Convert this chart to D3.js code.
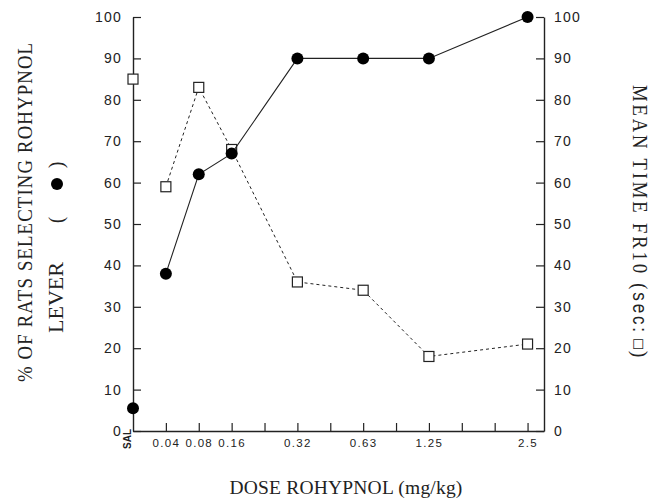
<!DOCTYPE html>
<html>
<head>
<meta charset="utf-8">
<script src="https://cdn.jsdelivr.net/npm/d3@7"></script>
<style>
  html, body { margin: 0; padding: 0; background: #fff; }
  svg { display: block; }
</style>
</head>
<body>
<svg id="chart" width="663" height="499"></svg>
<script>
// ---- data ----
const doses = ["SAL", "0.04", "0.08", "0.16", "0.32", "0.63", "1.25", "2.5"];
const doseSlots = [0, 1, 2, 3, 5, 7, 9, 12];          // slot of each dose on the x-axis
const xTickSlots = [1, 2, 3, 4, 5, 6, 7, 8, 9, 10, 11, 12];
const pctLever = [5.5, 38, 62, 67, 90, 90, 90, 100];  // % selecting Rohypnol lever (filled circles)
const meanTime = [85, 59, 83, 68, 36, 34, 18, 21];    // mean time FR10, sec (open squares)
const yTicks = [0, 10, 20, 30, 40, 50, 60, 70, 80, 90, 100];

const svg = d3.select("#chart");
const pLeft = 133, pRight = 544, pTop = 17, pBottom = 431;

const x = d3.scaleLinear().domain([0, 12.5]).range([pLeft, pRight]);
const yL = d3.scaleLinear().domain([0, 100]).range([pBottom, pTop]);
const yR = d3.scaleLinear().domain([0, 100]).range([pBottom, pTop]);

const axisColor = "#222";
const sans = "Liberation Sans, Arial, sans-serif";
const serif = "Liberation Serif, Times New Roman, serif";

// left axis
const gL = svg.append("g").attr("transform", `translate(${pLeft},0)`)
  .call(d3.axisLeft(yL).tickValues(yTicks).tickSizeInner(-8).tickSizeOuter(0).tickPadding(11));
// right axis
const gR = svg.append("g").attr("transform", `translate(${pRight},0)`)
  .call(d3.axisRight(yR).tickValues(yTicks).tickSizeInner(-8).tickSizeOuter(0).tickPadding(10));
// bottom axis
const gB = svg.append("g").attr("transform", `translate(0,${pBottom})`)
  .call(d3.axisBottom(x).tickValues(xTickSlots).tickSizeInner(-8).tickSizeOuter(0)
    .tickFormat(d => { const i = doseSlots.indexOf(d); return i > 0 ? doses[i] : ""; })
    .tickPadding(8));

[gL, gR, gB].forEach(g => {
  g.select(".domain").attr("stroke", axisColor).attr("stroke-width", 1.4);
  g.selectAll(".tick line").attr("stroke", axisColor).attr("stroke-width", 1.2);
});
[gL, gR].forEach(g => g.selectAll(".tick text")
  .attr("font-family", sans)
  .attr("font-size", 14).attr("letter-spacing", 1.2).attr("fill", "#222"));
gB.selectAll(".tick text")
  .attr("font-family", sans)
  .attr("font-size", 11.5).attr("letter-spacing", 1.3).attr("fill", "#222");

// SAL label (rotated)
svg.append("text")
  .attr("transform", `translate(${x(doseSlots[0]) - 2},${pBottom - 2}) rotate(-90)`)
  .attr("text-anchor", "end")
  .attr("font-family", sans)
  .attr("font-weight", "bold").attr("font-size", 10).attr("fill", "#222")
  .text(doses[0]);

// ---- series: mean time (squares, dashed) ----
const timePts = doseSlots.map((s, i) => ({ s, v: meanTime[i] }));
svg.append("path")
  .datum(timePts.slice(1))
  .attr("fill", "none").attr("stroke", "#222").attr("stroke-width", 1)
  .attr("stroke-dasharray", "3,3")
  .attr("d", d3.line().x(d => x(d.s)).y(d => yR(d.v)));
svg.append("g").selectAll("rect").data(timePts).join("rect")
  .attr("x", d => x(d.s) - 5).attr("y", d => yR(d.v) - 5)
  .attr("width", 10).attr("height", 10)
  .attr("fill", "#fff").attr("stroke", "#222").attr("stroke-width", 1.2);

// ---- series: % lever (filled circles, solid) ----
const pctPts = doseSlots.map((s, i) => ({ s, v: pctLever[i] }));
svg.append("path")
  .datum(pctPts.slice(1))
  .attr("fill", "none").attr("stroke", "#222").attr("stroke-width", 1.1)
  .attr("d", d3.line().x(d => x(d.s)).y(d => yL(d.v)));
svg.append("g").selectAll("circle").data(pctPts).join("circle")
  .attr("cx", d => x(d.s)).attr("cy", d => yL(d.v)).attr("r", 6)
  .attr("fill", "#000");

// ---- axis titles ----
svg.append("text")
  .attr("transform", `translate(346,494)`)
  .attr("text-anchor", "middle")
  .attr("font-family", serif).attr("font-size", 19.5).attr("letter-spacing", 0.2).attr("fill", "#222")
  .text("DOSE ROHYPNOL (mg/kg)");

const sc = 0.85; // rotated titles are narrower and taller in the reference
svg.append("text")
  .attr("transform", `translate(32,382) rotate(-90) scale(${sc},1)`)
  .attr("text-anchor", "start")
  .attr("font-family", serif).attr("font-size", 22).attr("fill", "#222")
  .attr("textLength", 339 / sc).attr("lengthAdjust", "spacing")
  .text("% OF RATS SELECTING ROHYPNOL");

svg.append("text")
  .attr("transform", `translate(63,333) rotate(-90)`)
  .attr("text-anchor", "start")
  .attr("font-family", serif).attr("font-size", 22).attr("fill", "#222")
  .text("LEVER");
svg.append("text")
  .attr("transform", `translate(63,223) rotate(-90) scale(${sc},1)`)
  .attr("text-anchor", "start")
  .attr("font-family", serif).attr("font-size", 22).attr("fill", "#222")
  .text("(");
svg.append("text")
  .attr("transform", `translate(63,168) rotate(-90) scale(${sc},1)`)
  .attr("text-anchor", "start")
  .attr("font-family", serif).attr("font-size", 22).attr("fill", "#222")
  .text(")");
svg.append("circle").attr("cx", 57).attr("cy", 184).attr("r", 6).attr("fill", "#000");

const rt = svg.append("text")
  .attr("transform", `translate(633,85) rotate(90) scale(${sc},1)`)
  .attr("text-anchor", "start")
  .attr("font-family", serif).attr("font-size", 22).attr("fill", "#222")
  .attr("textLength", 247 / sc).attr("lengthAdjust", "spacing");
rt.append("tspan").text("MEAN TIME FR10 (");
rt.append("tspan").attr("font-family", sans).attr("font-size", 20).text("sec:");
svg.append("text")
  .attr("transform", `translate(635,338) rotate(90)`)
  .attr("text-anchor", "start")
  .attr("font-family", "DejaVu Sans, sans-serif").attr("font-size", 13).attr("fill", "#222")
  .text("□");
svg.append("text")
  .attr("transform", `translate(633,351) rotate(90) scale(${sc},1)`)
  .attr("text-anchor", "start")
  .attr("font-family", serif).attr("font-size", 22).attr("fill", "#222")
  .text(")");
</script>
</body>
</html>
